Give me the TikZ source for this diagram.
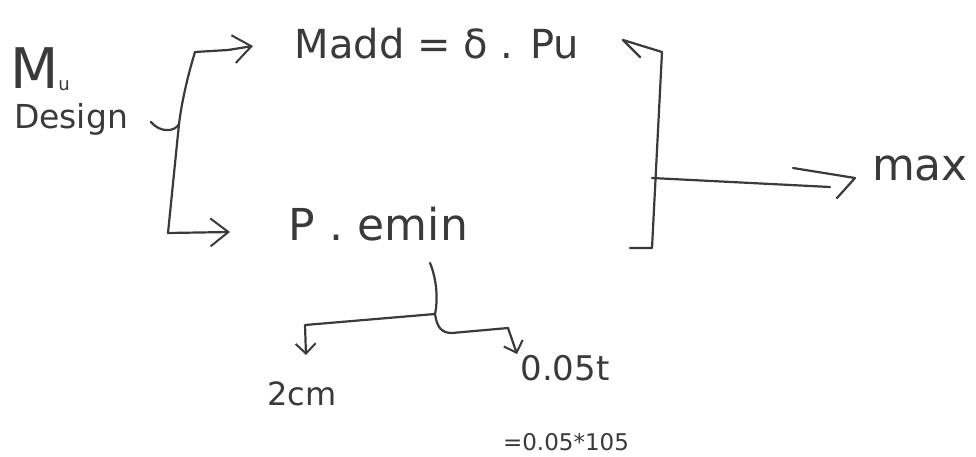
\documentclass[tikz,border=0pt]{standalone}
\usepackage{fontspec}
\setmainfont{DejaVu Sans}
\usetikzlibrary{arrows.meta}
\definecolor{ink}{HTML}{3A3A3A}
\begin{document}
\begin{tikzpicture}[x=1pt,y=-1pt,
  ink/.style={draw=ink,line width=2.2pt,line cap=round,line join=round},
  arr/.style={ink,-{Straight Barb[length=18pt,width=28pt,line width=2pt]}},
  sarr/.style={ink,-{Straight Barb[length=10pt,width=20pt,line width=2pt]}},
  lbl/.style={text=ink,inner sep=0pt}]
\useasboundingbox[fill=white] (0,0) rectangle (976,457);
% labels
\node[lbl,font=\fontsize{56}{58}\selectfont] (mu) at (40,69) {M\raisebox{-2pt}{\fontsize{18}{18}\selectfont u}};
\node[lbl,font=\fontsize{33}{35}\selectfont] (design) at (71,119) {Design};
\node[lbl,font=\fontsize{40}{42}\selectfont] (madd) at (437,44) {Madd = δ . Pu};
\node[lbl,font=\fontsize{44}{46}\selectfont] (pe) at (378,224) {P\,\,.\,\,emin};
\node[lbl,font=\fontsize{44}{46}\selectfont] (mx) at (920,168) {max};
\node[lbl,font=\fontsize{32}{34}\selectfont] (c2) at (302,394) {2cm};
\node[lbl,font=\fontsize{34}{36}\selectfont] (c5) at (565,368) {0.05t};
\node[lbl,font=\fontsize{23}{25}\selectfont] (c6) at (566,442) {=0.05*105};
% left brace and arrows
\coordinate (bt) at (195,52);
\coordinate (bk) at (179,124);
\coordinate (bb) at (168,233);
\draw[ink] (bt) .. controls (188,75) and (182,100) .. (bk)
  .. controls (175,132) and (160,133) .. (151,122);
\draw[ink] (bk) -- (bb);
\draw[arr] (bt) -- (228,50) -- (253,46);
\draw[arr] (bb) -- (230,232);
% right bracket
\coordinate (rt) at (662,52);
\coordinate (rb) at (652,248);
\coordinate (rm) at (652,178);
\draw[ink] (623,40) -- (rt) -- (rb) -- (630,248);
\draw[ink] (623,40) -- (640,57);
\draw[ink] (rm) -- (830,187);
\draw[ink] (793,168) -- (855,178) -- (837,198);
% lower split
\coordinate (pm) at (435,314);
\draw[ink] (430,263) .. controls (437,280) and (438,300) .. (pm);
\draw[sarr] (pm) -- (305,325) -- (306,355);
\draw[ink] (pm) .. controls (437,328) and (442,333) .. (452,333) -- (508,328);
\draw[sarr] (508,328) -- (517,354);
\end{tikzpicture}
\end{document}
